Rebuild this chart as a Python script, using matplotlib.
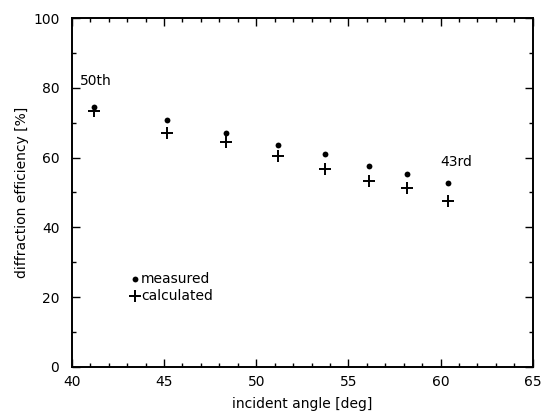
import matplotlib
matplotlib.use("Agg")
import matplotlib.pyplot as plt
from matplotlib.ticker import MultipleLocator

# incident angle [deg] for each diffraction order (50th ... 43rd)
angle = [41.2, 45.15, 48.35, 51.2, 53.75, 56.1, 58.2, 60.4]
measured = [74.6, 70.8, 67.0, 63.7, 61.0, 57.7, 55.2, 52.8]
calculated = [73.4, 67.1, 64.5, 60.5, 56.6, 53.4, 51.2, 47.6]

plt.rcParams["font.family"] = ["DejaVu Sans"]
plt.rcParams["font.size"] = 10

fig = plt.figure(figsize=(5.42, 4.13), dpi=100)
ax = fig.add_axes([0.1325, 0.112, 0.8505, 0.844])

dot_style = dict(linestyle="none", marker="o", markersize=4.2,
                 color="black", markeredgewidth=0)
plus_style = dict(linestyle="none", marker="+", markersize=8.5,
                  color="black", markeredgewidth=1.4)

ax.plot(angle, measured, **dot_style)
ax.plot(angle, calculated, **plus_style)

ax.text(40.45, 82, "50th", fontsize=10, va="center", ha="left")
ax.text(60.0, 58.8, "43rd", fontsize=10, va="center", ha="left")

# in-plot key
ax.plot([43.43], [25.1], **dot_style)
ax.plot([43.43], [20.3], **plus_style)
ax.text(43.75, 25.1, "measured", fontsize=10, va="center", ha="left")
ax.text(43.75, 20.3, "calculated", fontsize=10, va="center", ha="left")

ax.set_xlim(40, 65)
ax.set_ylim(0, 100)
ax.xaxis.set_major_locator(MultipleLocator(5))
ax.xaxis.set_minor_locator(MultipleLocator(1))
ax.yaxis.set_major_locator(MultipleLocator(20))
ax.yaxis.set_minor_locator(MultipleLocator(10))
ax.tick_params(which="both", direction="in", top=True, right=True,
               labelsize=10, width=1.0)
ax.tick_params(which="major", length=6)
ax.tick_params(which="minor", length=3)
ax.tick_params(axis="x", pad=6)
ax.tick_params(axis="y", pad=9)
for s in ax.spines.values():
    s.set_linewidth(1.4)

ax.set_xlabel("incident angle [deg]", fontsize=10, labelpad=6)
ax.set_ylabel("diffraction efficiency [%]", fontsize=10, labelpad=3)

fig.savefig("out.png", dpi=100)
